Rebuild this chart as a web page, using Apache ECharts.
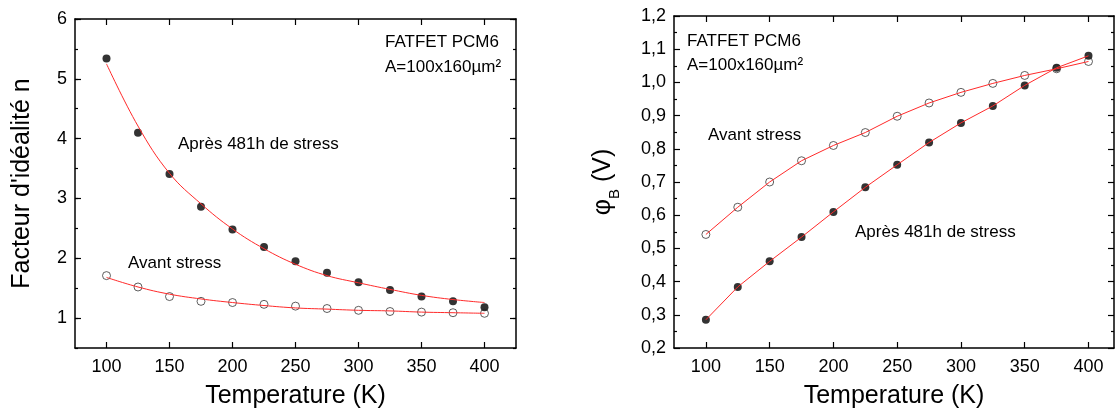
<!DOCTYPE html>
<html><head><meta charset="utf-8">
<script src="https://cdn.jsdelivr.net/npm/echarts@6/dist/echarts.min.js"></script>
<style>html,body{margin:0;padding:0;background:#fff}#c{width:1115px;height:414px}</style>
</head><body><div id="c"></div>
<script>
// ---- data ----
const temps = [100,125,150,175,200,225,250,275,300,325,350,375,400];
const xTicks = [100,150,200,250,300,350,400];
const nTicks = [1,2,3,4,5,6];
// Left: ideality factor n
const nAfter     = [5.34,4.10,3.41,2.86,2.48,2.19,1.95,1.76,1.60,1.47,1.36,1.28,1.18];
const nBefore    = [1.71,1.52,1.36,1.28,1.26,1.23,1.20,1.16,1.13,1.11,1.10,1.09,1.08];
const nAfterFit  = [5.25,4.21,3.42,2.91,2.49,2.16,1.90,1.71,1.59,1.48,1.38,1.31,1.26];
const nBeforeFit = [1.68,1.52,1.40,1.32,1.26,1.21,1.17,1.15,1.13,1.12,1.10,1.09,1.08];
// Right: barrier height phiB (V)
const phiBefore = [0.542,0.624,0.700,0.764,0.810,0.849,0.898,0.938,0.970,0.997,1.021,1.041,1.063];
const phiAfter  = [0.285,0.384,0.461,0.534,0.610,0.684,0.752,0.819,0.878,0.929,0.991,1.044,1.080];

const FONT = '"Liberation Sans", Arial, sans-serif';
const pairs = a => temps.map((t,i)=>[t,a[i]]);
const lineStyle = {color:'#000', width:1.5};

function xAx(grid, min, max, pos, withLabel){
  return {
    gridIndex:grid, type:'value', min:min, max:max, position:pos,
    axisLine:{show:true, onZero:false, lineStyle},
    axisTick:{show:true, inside:true, length:6, customValues:xTicks, lineStyle:{color:'#000',width:1.2}},
    axisLabel:{show:withLabel, customValues:xTicks, fontSize:18, color:'#000', margin:10, fontFamily:FONT},
    splitLine:{show:false},
    name: withLabel ? 'Temperature (K)' : '',
    nameLocation:'middle', nameGap:36,
    nameTextStyle:{fontSize:25, color:'#000', fontFamily:FONT}
  };
}

const option = {
  animation:false,
  backgroundColor:'#fff',
  grid:[
    {left:75, top:19, right:599, bottom:66},
    {left:674, top:16, right:1, bottom:65}
  ],
  xAxis:[
    xAx(0,75,425,'bottom',true),
    xAx(0,75,425,'top',false),
    xAx(1,75,420,'bottom',true),
    xAx(1,75,420,'top',false)
  ],
  yAxis:[
    {gridIndex:0, type:'value', min:0.5, max:6, position:'left',
     axisLine:{show:true, onZero:false, lineStyle},
     axisTick:{show:true, inside:true, length:6, customValues:nTicks, lineStyle:{color:'#000',width:1.2}},
     axisLabel:{customValues:nTicks, fontSize:18, color:'#000', margin:8, fontFamily:FONT},
     splitLine:{show:false},
     name:"Facteur d'idéalité n", nameLocation:'middle', nameGap:40, nameRotate:90,
     nameTextStyle:{fontSize:25, color:'#000', fontFamily:FONT}},
    {gridIndex:0, type:'value', min:0.5, max:6, interval:0.5, position:'left',
     axisLine:{show:false}, axisTick:{show:true, inside:true, length:3, lineStyle:{color:'#000',width:1.2}},
     axisLabel:{show:false}, splitLine:{show:false}},
    {gridIndex:0, type:'value', min:0.5, max:6, position:'right',
     axisLine:{show:true, onZero:false, lineStyle},
     axisTick:{show:true, inside:true, length:6, customValues:nTicks, lineStyle:{color:'#000',width:1.2}},
     axisLabel:{show:false}, splitLine:{show:false}},
    {gridIndex:0, type:'value', min:0.5, max:6, interval:0.5, position:'right',
     axisLine:{show:false}, axisTick:{show:true, inside:true, length:3, lineStyle:{color:'#000',width:1.2}},
     axisLabel:{show:false}, splitLine:{show:false}},
    {gridIndex:1, type:'value', min:0.2, max:1.2, interval:0.1, position:'left',
     axisLine:{show:true, onZero:false, lineStyle},
     axisTick:{show:true, inside:true, length:6, lineStyle:{color:'#000',width:1.2}},
     minorTick:{show:true, splitNumber:2, length:3, lineStyle:{color:'#000',width:1.2}},
     axisLabel:{fontSize:18, color:'#000', margin:8, fontFamily:FONT,
       formatter:v=>v.toFixed(1).replace('.',',')},
     splitLine:{show:false},
     name:'{p|φ}{s|B}{p| (V)}', nameLocation:'middle', nameGap:58, nameRotate:90,
     nameTextStyle:{color:'#000', fontFamily:FONT,
       rich:{p:{fontSize:25, fontFamily:FONT, color:'#000', lineHeight:30, verticalAlign:'bottom'},
             s:{fontSize:15, fontFamily:FONT, color:'#000', lineHeight:30, verticalAlign:'bottom', padding:[0,0,-6,0]}}}},
    {gridIndex:1, type:'value', min:0.2, max:1.2, interval:0.1, position:'right',
     axisLine:{show:true, onZero:false, lineStyle},
     axisTick:{show:true, inside:true, length:6, lineStyle:{color:'#000',width:1.2}},
     minorTick:{show:true, splitNumber:2, length:3, lineStyle:{color:'#000',width:1.2}},
     axisLabel:{show:false}, splitLine:{show:false}}
  ],
  series:[
    {type:'scatter', xAxisIndex:0, yAxisIndex:0, data:pairs(nAfter), symbol:'circle', symbolSize:8,
     itemStyle:{color:'#000'}, z:2},
    {type:'scatter', xAxisIndex:0, yAxisIndex:0, data:pairs(nBefore), symbol:'circle', symbolSize:8,
     itemStyle:{color:'rgba(0,0,0,0)', borderColor:'#222', borderWidth:0.9}, z:2},
    {type:'line', xAxisIndex:0, yAxisIndex:0, data:pairs(nAfterFit), smooth:0.4, showSymbol:false,
     lineStyle:{color:'#ff2a2a', width:1}, z:3},
    {type:'line', xAxisIndex:0, yAxisIndex:0, data:pairs(nBeforeFit), smooth:0.4, showSymbol:false,
     lineStyle:{color:'#ff2a2a', width:1}, z:3},
    {type:'scatter', xAxisIndex:2, yAxisIndex:4, data:pairs(phiAfter), symbol:'circle', symbolSize:8,
     itemStyle:{color:'#000'}, z:2},
    {type:'scatter', xAxisIndex:2, yAxisIndex:4, data:pairs(phiBefore), symbol:'circle', symbolSize:8,
     itemStyle:{color:'rgba(0,0,0,0)', borderColor:'#222', borderWidth:0.9}, z:2},
    {type:'line', xAxisIndex:2, yAxisIndex:4, data:pairs(phiAfter), showSymbol:false,
     lineStyle:{color:'#ff2a2a', width:1}, z:3},
    {type:'line', xAxisIndex:2, yAxisIndex:4, data:pairs(phiBefore), showSymbol:false,
     lineStyle:{color:'#ff2a2a', width:1}, z:3}
  ],
  graphic:[
    {type:'text', x:385, y:42, style:{text:'FATFET PCM6', font:'17px '+FONT, fill:'#000', verticalAlign:'middle'}},
    {type:'text', x:385, y:67, style:{text:'A=100x160µm²', font:'17px '+FONT, fill:'#000', verticalAlign:'middle'}},
    {type:'text', x:178, y:144, style:{text:'Après 481h de stress', font:'17px '+FONT, fill:'#000', verticalAlign:'middle'}},
    {type:'text', x:128, y:263, style:{text:'Avant stress', font:'17px '+FONT, fill:'#000', verticalAlign:'middle'}},
    {type:'text', x:687, y:41, style:{text:'FATFET PCM6', font:'17px '+FONT, fill:'#000', verticalAlign:'middle'}},
    {type:'text', x:687, y:65, style:{text:'A=100x160µm²', font:'17px '+FONT, fill:'#000', verticalAlign:'middle'}},
    {type:'text', x:708, y:135, style:{text:'Avant stress', font:'17px '+FONT, fill:'#000', verticalAlign:'middle'}},
    {type:'text', x:855, y:232, style:{text:'Après 481h de stress', font:'17px '+FONT, fill:'#000', verticalAlign:'middle'}}
  ]
};
const chart = echarts.init(document.getElementById('c'), null, {renderer:'canvas'});
chart.setOption(option);
</script>
</body></html>
